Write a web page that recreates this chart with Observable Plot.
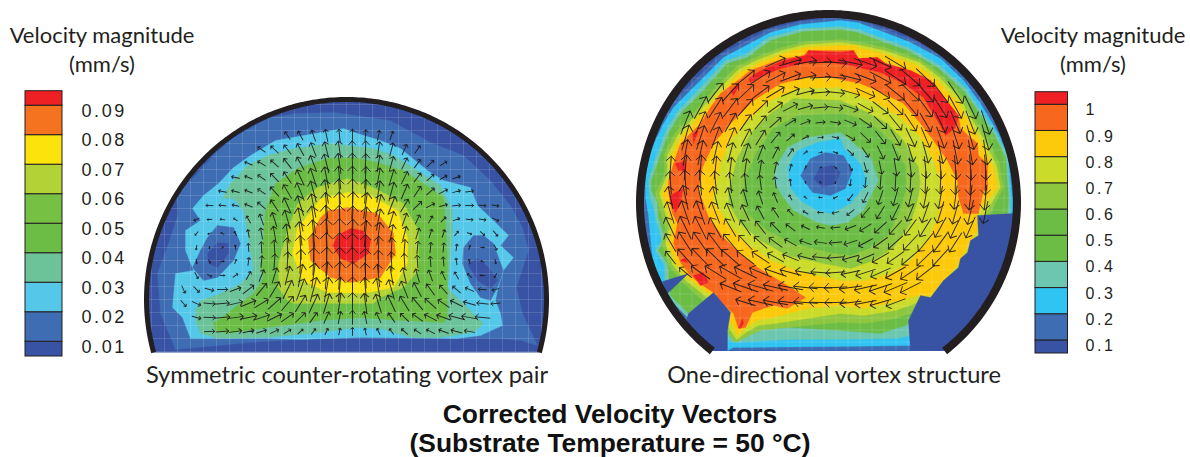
<!DOCTYPE html>
<html>
<head>
<meta charset="utf-8">
<script src="https://cdn.jsdelivr.net/npm/d3@7"></script>
<script src="https://cdn.jsdelivr.net/npm/@observablehq/plot@0.6"></script>
<style>
html,body{margin:0;padding:0;background:#fff;width:1190px;height:457px;overflow:hidden}
#page{position:relative;width:1190px;height:457px}
#page>*{position:absolute}
svg{overflow:visible;background:transparent!important}
.legend text{letter-spacing:2.6px;fill:#231f20;font-variant-numeric:normal!important}
.t{color:#231f20;white-space:nowrap;transform:translateX(-50%);line-height:1}
.h{font:22px Lato,"Noto Sans",sans-serif}
.c{font:23.6px Lato,"Noto Sans",sans-serif}
.b{font:bold 26.4px "Liberation Sans",Arial,sans-serif;color:#111}
</style>
</head>
<body>
<div id="page"></div>
<script>
// ---------- legend definitions ----------
const leftThresholds = [0.01,0.02,0.03,0.04,0.05,0.06,0.07,0.08,0.09];
const leftColors = ["#3953a4","#3f6db4","#55c8ea","#6cc39a","#6bbd45","#76c043","#b2d235","#fbe30b","#f5731f","#ee2024"];
const rightThresholds = [0.1,0.2,0.3,0.4,0.5,0.6,0.7,0.8,0.9,1];
const rightColors = ["#3953a4","#3f6db4","#2fc4f2","#6dc6b0","#6bbd45","#6bbd45","#8dc63f","#cbdb2a","#fdca0b","#f7671e","#ee2024"];

// ---------- isoband outlines: [speed, [x,y, x,y, ...]] painted in order ----------
const leftBands = [
[0.015,[175,349,160,313,157,273,168,243,178,213,176,195,195,175,213,155,233,137,267,118,293,113,335,112,390,120,430,142,463,155,490,180,510,205,522,227,528,250,516,287,522,313,537,345,520,340,497,338,360,337,300,339,250,342]],
[0.025,[190,338,182,317,172,307,175,273,193,270,185,250,185,230,200,220,192,208,203,195,218,183,233,167,250,155,275,140,320,132,343,128,357,133,380,140,400,148,427,170,443,180,470,187,477,205,495,222,508,235,500,245,513,257,503,270,497,290,495,300,500,313,502,325,480,335,457,338,360,337,300,339,267,338]],
[0.015,[217,225,233,227,240,243,233,260,217,277,203,280,192,267,200,250,207,237]],
[0.005,[207,253,217,242,228,243,228,253,217,267,208,263]],
[0.015,[473,235,463,247,462,263,470,283,480,297,490,300,497,287,503,270,498,257,493,243,483,235]],
[0.005,[467,263,477,258,488,267,497,280,490,288,477,280]],
[0.035,[195,310,200,300,220,293,240,283,253,270,247,233,243,210,233,198,222,198,230,183,247,165,267,155,293,148,330,143,347,145,373,148,393,155,417,170,440,185,452,210,452,233,450,257,447,287,457,297,483,323,473,332,440,337,410,337,380,328,357,327,320,332,267,337,217,338,200,333,195,320]],
[0.045,[213,322,217,320,253,293,263,277,260,267,263,237,265,210,275,183,297,168,327,158,353,157,377,162,403,170,423,183,443,197,445,220,447,260,447,317,443,322,400,320,360,317,320,320,267,327,227,333,215,330]],
[0.065,[287,300,278,287,278,263,287,230,297,203,317,187,347,178,373,187,403,203,418,230,418,270,403,287,380,297,373,303,320,303,293,303]],
[0.075,[347,192,320,198,310,212,297,227,292,253,302,280,327,292,363,293,393,287,407,263,407,237,397,210,370,195]],
[0.085,[347,207,328,210,320,217,308,240,310,260,330,277,350,282,380,277,395,253,393,233,377,213]],
[0.095,[350,228,337,235,332,245,340,258,353,263,368,253,370,240,362,230]]
];
const rightBands = [
[0.15,[642,213,643,177,647,150,660,120,670,104,694,80,720,54,768,29,799,21,840,17,858,19,888,30,911,39,942,55,965,77,983,101,1001,131,1010,155,1014,200,1014,213,1000,270,947,350,707,350,665,295,650,258,644,238]],
[0.25,[645,197,645,177,649,153,663,123,673,107,697,83,723,57,770,32,800,24,840,20,857,22,887,33,910,42,940,58,963,80,980,103,998,133,1008,157,1012,200,1012,213,1000,260,920,330,912,345,840,346,733,347,727,350,708,340,690,315,668,295,657,275,652,258,650,237,648,215]],
[0.35,[648,180,649,195,653,207,655,217,661,240,655,250,664,265,664,293,686,316,733,342,790,339,840,339,897,338,910,335,1000,260,1010,212,1010,197,1007,155,995,131,979,108,965,87,938,64,908,47,888,40,858,29,840,26,802,28,768,37,745,54,725,60,697,90,677,111,665,131,655,158]],
[0.45,[651,180,651,190,657,202,658,217,665,238,658,250,667,263,670,295,688,313,735,336,760,326,790,327,840,330,880,333,905,325,995,270,1007,212,1008,197,1005,157,993,133,977,110,963,90,937,67,907,50,887,43,857,32,840,29,803,31,770,40,747,57,727,63,700,93,680,113,668,133,658,160]],
[0.65,[655,193,660,212,665,228,661,243,669,266,681,281,700,298,714,310,727,332,735,342,749,335,760,330,777,328,807,325,840,322,865,323,895,318,913,312,937,305,950,288,963,270,980,235,990,213,1003,187,999,163,986,136,969,108,964,98,941,75,921,60,885,47,861,42,840,39,805,41,781,47,757,56,736,66,716,86,693,112,674,133,664,153,664,173]],
[0.75,[659,193,664,210,669,227,665,243,672,264,684,279,704,295,717,307,730,330,736,339,747,331,758,325,775,323,807,318,840,313,863,315,895,310,915,303,935,300,947,285,960,268,968,255,973,245,980,233,985,213,1000,187,996,165,983,138,966,110,961,100,939,77,919,62,884,50,861,45,840,42,805,44,782,50,758,59,738,69,718,89,695,115,677,135,667,155,667,173]],
[0.85,[662,193,667,210,672,227,668,243,675,262,687,277,707,292,720,303,733,327,737,335,745,327,757,320,773,317,807,308,840,305,863,308,900,300,917,295,930,295,943,280,957,265,965,250,970,240,977,230,977,213,997,187,993,167,980,140,963,113,958,103,937,80,917,65,883,53,860,48,855,45,840,45,805,47,783,53,760,62,740,72,720,92,697,118,680,137,670,157,670,173]],
[0.95,[668,193,672,213,677,223,673,243,680,262,690,275,702,285,713,292,723,305,733,313,738,328,745,327,752,312,763,308,773,305,787,308,805,297,790,287,757,267,740,253,723,237,708,217,702,200,698,190,702,167,713,143,730,123,753,100,780,83,807,77,830,77,860,83,883,93,903,103,920,123,933,140,947,160,957,180,958,197,963,213,978,213,983,190,987,190,987,163,978,155,977,143,960,128,958,115,930,80,910,70,885,63,877,57,858,58,853,50,840,50,808,50,803,55,783,58,763,65,750,70,740,78,720,93,710,107,700,123,693,130,680,143,673,163,668,180]],
[1.05,[748,78,757,72,767,67,783,60,805,55,808,50,840,52,853,50,858,58,877,57,885,63,910,70,930,80,958,115,955,127,945,135,937,120,923,97,903,83,880,72,850,65,830,62,807,62,780,68,763,75,750,82]],
[1.05,[675,163,685,160,685,170,678,170]],
[1.05,[670,195,682,188,680,203,675,212,670,203]],
[1.05,[680,260,685,257,687,262]],
[1.05,[693,275,703,272,708,282,700,285]],
[1.05,[738,327,742,318,743,323,740,328]],
[1.05,[692,133,698,130,693,143]],
[1.05,[730,90,740,83,733,95]],
[0.75,[840,87,797,88,770,100,747,120,730,140,720,163,715,190,713,200,727,223,747,243,770,260,803,272,840,280,863,280,890,273,910,260,927,240,937,217,940,193,940,180,933,160,920,137,900,117,877,103,850,92]],
[0.65,[840,100,793,98,770,113,750,133,737,157,728,190,728,203,740,223,760,240,787,255,823,263,850,268,873,260,893,247,910,223,917,200,920,183,918,167,903,140,887,123,863,110]],
[0.55,[840,113,797,115,773,128,757,150,745,177,742,193,747,213,767,230,793,243,830,252,850,255,870,247,887,235,898,213,905,190,905,167,893,143,873,125,850,115]],
[0.35,[777,163,787,147,807,137,840,132,850,140,870,157,878,180,873,190,863,210,847,222,830,225,817,222,793,210,780,193,773,180]],
[0.25,[787,167,797,150,817,142,840,138,843,147,860,163,867,183,862,188,850,203,830,213,817,210,800,200,790,187]],
[0.15,[800,175,810,158,825,152,843,155,852,170,845,188,830,195,812,192]],
[0.05,[813,178,820,167,832,165,840,172,835,183,822,187]]
];
// stagnant areas along the wall, painted over the mesh
const rightStagnant = [
[0.05,[662,281,688,273,668,292,666,293]],
[0.05,[688,313,713,292,730,312,727,330,727,350,708,350,686,320]],
[0.05,[977,215,1013,213,1013,225,1006,255,993,285,973,315,947,350,910,350,908,320,920,295,930,297,943,280,958,267,960,258,967,252,970,240,978,235]]
];

// ---------- velocity vectors: [row y, first x, rotations (deg clockwise from up), lengths]; columns are evenly spaced ----------
const leftStep = 13;
const leftVectors = [
[135,287,[-35,-28,-20,-12,-6,0,5,12,20],[8,9,10,11,11,11,10,9,8]],
[149,261,[-55,-47,-38,-29,-21,-14,-8,-3,2,8,15,24,36],[8,9,10,12,13,14,15,15,15,14,12,10,8]],
[163,248,[-68,-58,-48,-38,-29,-21,-14,-8,-2,3,9,16,25,36,47,58],[7,8,9,11,13,15,17,18,18,17,15,13,11,9,8,7]],
[177,235,[-78,-68,-56,-44,-33,-25,-18,-11,-6,-1,4,10,17,26,37,48,60,72],[7,7,8,10,12,15,17,19,20,20,19,17,15,12,10,8,7,7]],
[191,222,[-80,-76,-68,-56,-42,-30,-22,-15,-9,-4,0,4,9,15,23,34,48,62,74,82],[7,7,7,8,11,14,17,19,21,22,22,21,19,17,14,11,9,8,7,7]],
[205,209,[-88,-84,-78,-68,-50,-33,-24,-17,-11,-5,-1,3,8,14,21,31,46,62,75,84,90,95,100],[6,6,6,7,9,12,15,18,21,23,24,24,23,20,17,13,10,8,7,7,7,6,6]],
[219,196,[-115,-95,-80,-55,-30,-20,-18,-16,-12,-8,-4,-1,2,6,11,16,20,25,30,45,70,95,100,115],[5,4,4,4,7,10,13,17,21,24,25,25,24,22,19,15,12,9,7,6,6,6,6,6]],
[233,196,[-140,-110,-60,-25,-10,-10,-10,-9,-7,-5,-2,0,2,5,8,11,14,17,18,20,40,110,130,140],[4,3,3,4,7,10,13,17,21,24,26,26,25,23,20,16,13,10,8,7,5,4,5,6]],
[247,196,[-170,-175,40,-10,-4,-3,-3,-3,-3,-2,-1,0,0,1,2,3,4,5,6,6,8,15,90,150],[4,2,2,4,7,10,13,17,21,25,26,26,25,23,20,17,14,11,9,8,6,4,3,5]],
[261,196,[175,150,80,20,8,5,4,3,3,2,2,1,0,0,-1,-2,-3,-4,-5,-5,-8,-15,-60,170],[4,3,3,4,7,10,13,17,21,24,25,25,25,23,20,17,14,11,9,8,6,4,3,4]],
[275,196,[150,120,90,55,30,22,17,14,11,8,5,3,0,-3,-6,-10,-13,-16,-20,-24,-30,-50,-90,-150],[6,4,4,5,8,11,14,17,20,22,24,24,24,22,20,17,14,12,10,8,7,5,4,4]],
[289,183,[155,135,105,90,70,52,40,32,26,20,15,10,5,0,-5,-10,-16,-22,-28,-35,-42,-50,-65,-85,-105],[7,7,8,9,10,12,14,16,18,20,22,22,22,22,21,20,18,16,14,12,10,9,8,7,6]],
[303,183,[140,115,95,85,77,68,58,48,40,32,25,17,8,0,-8,-17,-25,-32,-40,-48,-56,-64,-74,-84,-95],[7,8,10,12,13,14,14,15,16,17,18,18,19,19,18,17,16,15,14,13,12,12,11,10,8]],
[317,196,[105,92,85,82,78,72,64,55,46,35,24,12,0,-12,-24,-35,-46,-55,-63,-70,-75,-80,-85],[8,10,13,14,15,15,14,13,12,11,11,11,12,11,10,10,10,11,12,13,14,14,13]],
[331,209,[88,85,82,78,72,65,57,48,38,26,13,0,-13,-26,-38,-48,-56,-63,-70,-75,-80],[9,11,11,10,9,8,7,6,6,6,6,7,6,6,6,7,7,8,9,10,9]]
];
const rightStep = 15;
const rightVectors = [
[62,775,[66,73,80,87,94,102,109,115,121],[19,20,20,20,20,21,21,21,21]],
[77,745,[51,57,63,70,78,87,95,103,111,118,124,130,134],[20,20,19,19,19,18,18,19,20,21,22,22,22]],
[92,715,[38,42,47,53,59,67,76,86,96,106,114,122,129,134,139,143,146],[21,21,20,19,18,17,16,16,16,17,18,19,20,21,22,22,23]],
[107,700,[29,33,37,41,47,54,63,74,85,97,109,119,127,134,140,144,148,151,154],[22,21,20,19,17,15,14,13,13,13,14,15,17,18,19,20,21,22,22]],
[122,685,[22,24,27,30,35,40,48,57,69,84,99,113,125,134,141,146,150,154,157,159,161],[22,21,20,19,17,15,13,11,9,8,9,11,13,15,17,18,19,20,21,22,22]],
[137,685,[16,18,20,23,27,32,39,49,63,82,102,120,134,143,149,154,157,160,162,164,165],[23,22,20,19,17,15,12,9,6,5,6,9,12,14,16,18,19,20,21,22,23]],
[152,685,[10,12,13,15,18,21,27,36,51,77,109,133,146,154,159,163,165,167,169,170,171],[23,22,20,18,17,14,11,8,4,3,4,7,10,13,15,17,19,20,21,22,22]],
[167,670,[4,5,5,6,7,8,9,12,17,28,61,129,155,164,168,171,173,174,175,175,176,176],[20,22,22,20,18,16,13,10,6,3,2,3,6,9,12,15,17,19,20,21,22,22]],
[182,670,[-4,-5,-5,-6,-6,-6,-7,-7,-8,-11,-34,204,189,186,184,183,183,182,182,182,182,181],[20,22,22,20,18,16,13,10,6,2,2,2,6,9,12,15,17,19,20,21,22,22]],
[197,670,[-12,-12,-13,-14,-15,-16,-18,-22,-30,-50,-80,245,218,206,199,195,193,191,190,188,187,186],[20,22,22,20,18,15,12,9,5,3,3,4,7,10,13,15,17,19,20,21,22,22]],
[212,670,[-18,-19,-20,-21,-23,-25,-28,-33,-42,-58,-85,255,232,220,212,206,202,199,197,195,194,192],[20,22,22,20,18,15,13,10,7,5,5,6,8,11,13,15,17,19,20,21,22,20]],
[227,670,[-25,-26,-27,-29,-31,-34,-38,-44,-52,-64,-80,-95,250,238,228,222,216,212,209,206,204],[20,22,22,20,18,16,14,12,10,8,7,8,10,12,14,16,17,19,20,21,20]],
[242,670,[-30,-33,-35,-37,-40,-43,-48,-54,-61,-70,-82,-95,252,242,234,228,223,219,216,213],[18,22,22,21,19,17,15,14,12,11,11,11,12,14,15,17,18,20,21,20]],
[257,670,[-38,-42,-44,-46,-49,-52,-56,-61,-68,-75,-84,-95,255,247,240,235,230,226,222],[14,20,22,22,21,19,18,16,15,14,14,14,15,16,17,18,20,21,20]],
[272,685,[-50,-55,-58,-61,-64,-67,-71,-75,-80,-86,-94,258,252,246,241,236,232],[14,20,22,22,22,21,20,19,18,17,17,17,18,19,20,21,20]],
[287,730,[-68,-71,-74,-77,-80,-84,-88,-93,262,257,252,247,243],[20,23,23,22,22,21,20,20,20,20,21,22,20]],
[302,745,[-73,-77,-80,-83,-86,-89,-92,263,259,254,249],[18,22,22,22,21,20,19,19,19,19,18]]
];

const leftTicks = leftThresholds, rightTicks = rightThresholds;
const captions = {left:"Symmetric counter-rotating vortex pair", right:"One-directional vortex structure",
  t1:"Corrected Velocity Vectors", t2:"(Substrate Temperature = 50 °C)", leg1:"Velocity magnitude", leg2:"(mm/s)"};

// ---------- helpers ----------
const toPoints = (bands) => bands.flatMap(([v, xy], i) => d3.range(0, xy.length, 2).map(k => ({ring:i, v, x:xy[k], y:xy[k+1]})));
const toVectors = (rows, step) => rows.flatMap(([y,x0,rots,lens]) => rots.map((r,i)=>({x:x0+i*step, y, r, l:lens[i]})));
function dome({cx,cy,r,yBottom,bands,after=[],vectors,step,thresholds,colors,baseLevel,sw,meshStep,meshOff,domain,box}) {
  const inner = r - sw/2 + 0.5;
  const a0 = Math.asin((yBottom-cy)/r);
  const wall = d3.range(0,241).map(i=>{ // from lower-left, over the top, to lower-right
    const t = Math.PI + a0 - (Math.PI + 2*a0)*i/240;
    return {x:cx+r*Math.cos(t), y:cy-r*Math.sin(t)};
  });
  const halfY = y => Math.sqrt(Math.max(0,inner*inner-(y-cy)*(y-cy)));
  const halfX = x => Math.sqrt(Math.max(0,inner*inner-(x-cx)*(x-cx)));
  const mx = d3.range(cx-r+meshOff, cx+r, meshStep), my = d3.range(cy-r+meshOff, yBottom, meshStep);
  const verts = mx.map(x=>({x, y1:yBottom, y2:cy-halfX(x)})).filter(d=>d.y2<yBottom);
  const hors = my.map(y=>({y, x1:cx-halfY(y), x2:cx+halfY(y)}));
  const base = wall.map(d=>({...d, v:baseLevel}));
  return Plot.plot({
    width:box.w, height:box.h, margin:0,
    x:{domain:domain.x, axis:null}, y:{domain:domain.y, axis:null},
    color:{type:"threshold", domain:thresholds, range:colors},
    length:{domain:[0,30], range:[0,34]},
    marks:[
      Plot.line(base,{x:"x",y:"y",fill:"v",stroke:null,curve:"linear-closed"}),
      Plot.line(toPoints(bands),{x:"x",y:"y",z:"ring",fill:"v",stroke:"v",strokeWidth:0.3,curve:"linear-closed"}),
      Plot.ruleX(verts,{x:"x",y1:"y1",y2:"y2",stroke:"#fff",strokeOpacity:0.2,strokeWidth:0.7}),
      Plot.ruleY(hors,{y:"y",x1:"x1",x2:"x2",stroke:"#fff",strokeOpacity:0.2,strokeWidth:0.7}),
      Plot.line(toPoints(after),{x:"x",y:"y",z:"ring",fill:"v",stroke:"v",strokeWidth:0.3,curve:"linear-closed"}),
      Plot.vector(toVectors(vectors,step),{x:"x",y:"y",rotate:"r",length:"l",anchor:"middle",stroke:"#1c1a1a",strokeWidth:0.95,strokeOpacity:0.9}),
      Plot.line(wall,{x:"x",y:"y",stroke:"#231f20",strokeWidth:sw,strokeLinecap:"butt"})
    ]
  });
}
function legend({thresholds,colors,edges,ticks,fmt,box,marginTop,marginBottom,fontSize}) {
  const cells = d3.pairs(edges).map(([a,b])=>({a,b,m:(a+b)/2}));
  return Plot.plot({
    className:"legend",
    width:box.w, height:box.h, marginLeft:0, marginTop, marginBottom, marginRight:box.w-box.axis,
    style:{fontFamily:"'Liberation Sans',Arial,sans-serif",fontSize:fontSize+"px"},
    x:{domain:[0,box.axis],range:[0,box.axis],axis:null},
    y:{domain:[edges[0],edges[edges.length-1]]},
    color:{type:"threshold",domain:thresholds,range:colors},
    marks:[
      Plot.rect(cells,{x1:()=>0,x2:()=>box.rw,y1:"a",y2:"b",fill:"m",stroke:"#231f20",strokeWidth:1}),
      Plot.axisY({anchor:"right",ticks,tickSize:0,tickPadding:0,textAnchor:"start",dy:box.dy,tickFormat:fmt,label:null,fontSize,fill:"#231f20",fontVariant:"normal"})
    ]
  });
}
const page = document.getElementById("page");
const place = (el,left,top)=>{el.style.left=left+"px";el.style.top=top+"px";page.appendChild(el);};
const text = (cls,s,x,y)=>{const d=document.createElement("div");d.className="t "+cls;d.textContent=s;d.style.left=x+"px";d.style.top=y+"px";page.appendChild(d);};

place(dome({cx:346,cy:299,r:200,yBottom:352,bands:leftBands,vectors:leftVectors,step:leftStep,thresholds:leftThresholds,colors:leftColors,baseLevel:0.005,sw:5,meshStep:13,meshOff:5,domain:{x:[130,560],y:[360,85]},box:{w:430,h:275}}),130,85);
place(dome({cx:828,cy:202,r:188.5,yBottom:350.5,bands:rightBands,after:rightStagnant,vectors:rightVectors,step:rightStep,thresholds:rightThresholds,colors:rightColors,baseLevel:0.05,sw:8,meshStep:12,meshOff:4,domain:{x:[620,1040],y:[360,0]},box:{w:420,h:360}}),620,0);

// legends: y scale runs over the bar's own extent
place(legend({thresholds:leftThresholds,colors:leftColors,edges:[0.005,0.01,0.02,0.03,0.04,0.05,0.06,0.07,0.08,0.09,0.0949],ticks:leftTicks,fmt:d3.format(".2f"),box:{w:130,h:275,axis:56,rw:37,dy:5.5},marginTop:5.7,marginBottom:4,fontSize:18}),25.3,85);
place(legend({thresholds:rightThresholds,colors:rightColors,edges:[0.05,0.1,0.2,0.3,0.4,0.5,0.6,0.7,0.8,0.9,1,1.048],ticks:rightTicks,fmt:d=>d===1?"1":d.toFixed(1),box:{w:120,h:275,axis:50,rw:32.5,dy:5.5},marginTop:6.7,marginBottom:7,fontSize:16}),1034.7,85);

text("h",captions.leg1,102,21); text("h",captions.leg2,102,50);
text("h",captions.leg1,1093,21); text("h",captions.leg2,1093,50);
text("c",captions.left,347,360); text("c",captions.right,834,360);
text("b",captions.t1,610,399); text("b",captions.t2,610,428);
</script>
</body>
</html>
